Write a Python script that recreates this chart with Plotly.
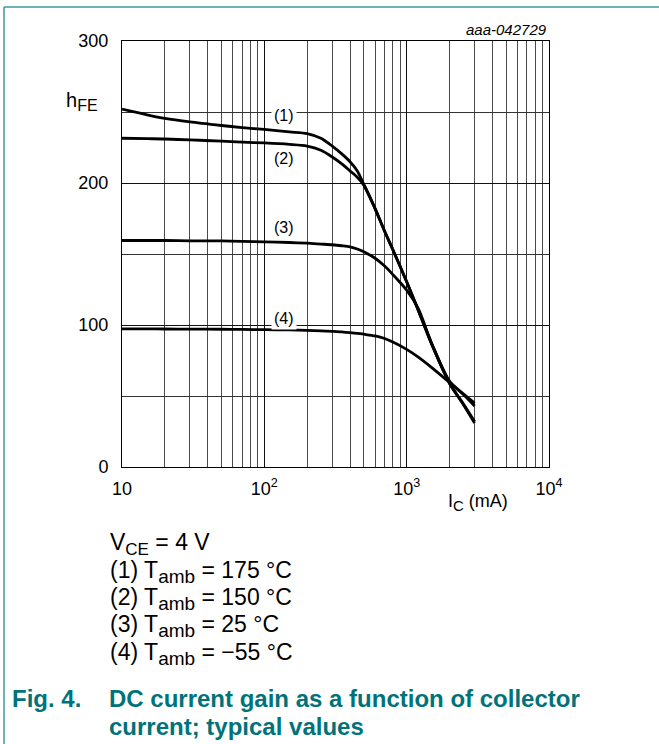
import math
import plotly.graph_objects as go

# Collector current (mA) grid shared by the readings below
ic = [10, 15, 20, 30, 50, 70, 100, 150, 200, 250, 300, 350, 400, 450, 500,
      600, 700, 800, 1000, 1200, 1500, 2000, 2500, 3000]

# DC current gain for each ambient temperature
hfe_175 = [252, 248, 245.5, 243, 240.5, 239, 237.7, 236, 234.8, 231.5, 226, 220.5, 215, 208.5, 199,
           182, 166, 153, 130.5, 111, 86.5, 59, 44, 31]
hfe_150 = [231.5, 231.2, 231, 230.3, 229.5, 228.8, 228.2, 227.2, 226, 223, 218.3, 213.5, 208.5, 204, 198.5,
           182, 166, 153, 130.5, 111, 86.5, 59, 44.5, 32]
hfe_25 = [159.5, 159.5, 159.5, 159.3, 159.2, 158.9, 158.6, 158.1, 157.6, 157, 156.5, 155.8, 155, 153.5, 151.5,
          147, 141.5, 135.5, 124.5, 112, 87, 60.5, 51.5, 45]
hfe_m55 = [97.3, 97.3, 97.2, 97.1, 97, 96.9, 96.7, 96.5, 96.2, 95.9, 95.5, 95.1, 94.6, 94.1, 93.5,
           92.3, 90.5, 88, 82.8, 77.5, 70, 59.5, 51, 43]

curve_tags = ["(1)", "(2)", "(3)", "(4)"]
tag_ic = [137, 137, 137, 137]
tag_hfe = [247.6, 217.3, 168.8, 104.8]

x_major = [10, 100, 1000, 10000]
x_major_text = ["10", "10<sup>2</sup>", "10<sup>3</sup>", "10<sup>4</sup>"]
x_minor = [m * d for d in (10, 100, 1000) for m in range(2, 10)]
y_major = [0, 100, 200, 300]
y_minor = [50, 150, 250]

SUB = "<sub><span style='font-size:19px'>{}</span></sub>"
conditions = [
    "V<sub><span style='font-size:17px'>CE</span></sub> = 4 V",
    "(1) T" + SUB.format("amb") + " = 175 °C",
    "(2) T" + SUB.format("amb") + " = 150 °C",
    "(3) T" + SUB.format("amb") + " = 25 °C",
    "(4) T" + SUB.format("amb") + " = \u221255 °C",
]
caption_num = "Fig. 4."
caption_lines = ["DC current gain as a function of collector", "current; typical values"]

W, H = 659, 744
L, R, T, B = 122, 549, 41, 467
FONT = "Liberation Sans, Arial, sans-serif"
TEAL = "#00737a"


def px(x):
    return (x - L) / (R - L)


def py(y):
    return (B - y) / (B - T)


fig = go.Figure()
for ys in [hfe_175, hfe_150, hfe_25, hfe_m55]:
    fig.add_trace(go.Scatter(
        x=ic, y=ys, mode="lines",
        line=dict(color="black", width=2.8, shape="spline", smoothing=0.8),
        hoverinfo="skip", showlegend=False,
    ))

annotations = []
for tag, xv, yv in zip(curve_tags, tag_ic, tag_hfe):
    annotations.append(dict(
        x=math.log10(xv), y=yv, xref="x", yref="y", text=tag, showarrow=False,
        font=dict(family=FONT, size=16, color="black"),
        bgcolor="white", borderpad=2,
    ))

annotations.append(dict(
    x=px(R), y=py(30), xref="paper", yref="paper", text="<i>aaa-042729</i>",
    showarrow=False, xanchor="right", yanchor="middle",
    font=dict(family=FONT, size=15, color="black"),
))
annotations.append(dict(
    x=px(64), y=py(101), xref="paper", yref="paper",
    text="h<sub><span style='font-size:16px'>FE</span></sub>",
    showarrow=False, xanchor="left", yanchor="middle",
    font=dict(family=FONT, size=20, color="black"),
))
annotations.append(dict(
    x=px(446), y=py(503), xref="paper", yref="paper",
    text="I<sub><span style='font-size:15px'>C</span></sub> (mA)",
    showarrow=False, xanchor="left", yanchor="middle",
    font=dict(family=FONT, size=18, color="black"),
))

row_y = [543.5, 572.2, 599.3, 626.4, 653.5]
for line, yrow in zip(conditions, row_y):
    annotations.append(dict(
        x=px(108), y=py(yrow), xref="paper", yref="paper", text=line,
        showarrow=False, xanchor="left", yanchor="middle",
        font=dict(family=FONT, size=23, color="black"),
    ))

annotations.append(dict(
    x=px(10), y=py(698), xref="paper", yref="paper", text=f"<b>{caption_num}</b>",
    showarrow=False, xanchor="left", yanchor="middle",
    font=dict(family=FONT, size=24, color=TEAL),
))
for i, line in enumerate(caption_lines):
    annotations.append(dict(
        x=px(107), y=py(698 + 28.5 * i), xref="paper", yref="paper", text=f"<b>{line}</b>",
        showarrow=False, xanchor="left", yanchor="middle",
        font=dict(family=FONT, size=24, color=TEAL),
    ))

shapes = [
    dict(type="line", xref="paper", yref="paper", x0=px(4), x1=px(W + 5), y0=py(7), y1=py(7),
         line=dict(color="#3f9a9e", width=1.5)),
    dict(type="line", xref="paper", yref="paper", x0=px(4), x1=px(4), y0=py(7), y1=py(H + 5),
         line=dict(color="#3f9a9e", width=1.5)),
]

fig.update_layout(
    width=W, height=H,
    margin=dict(l=L, r=W - R, t=T, b=H - B),
    paper_bgcolor="white", plot_bgcolor="white",
    font=dict(family=FONT, size=18, color="black"),
    annotations=annotations, shapes=shapes,
    xaxis=dict(
        type="log", range=[1, 4],
        tickmode="array", tickvals=x_major, ticktext=x_major_text,
        ticks="", showgrid=True, gridcolor="#111", gridwidth=1,
        showline=True, linecolor="black", linewidth=1, mirror=True,
        zeroline=False, ticklabelstandoff=5,
        tickfont=dict(family=FONT, size=18, color="black"),
        minor=dict(tickmode="array", tickvals=x_minor, showgrid=True,
                   gridcolor="#4a4a4a", gridwidth=1, ticks=""),
    ),
    yaxis=dict(
        range=[0, 300],
        tickmode="array", tickvals=y_major, ticktext=[str(v) for v in y_major],
        ticks="", showgrid=True, gridcolor="#111", gridwidth=1,
        showline=True, linecolor="black", linewidth=1, mirror=True,
        zeroline=False, ticklabelstandoff=9,
        tickfont=dict(family=FONT, size=18, color="black"),
        minor=dict(tickmode="array", tickvals=y_minor, showgrid=True,
                   gridcolor="#333", gridwidth=1, ticks=""),
    ),
)

fig.write_html("out.html")
